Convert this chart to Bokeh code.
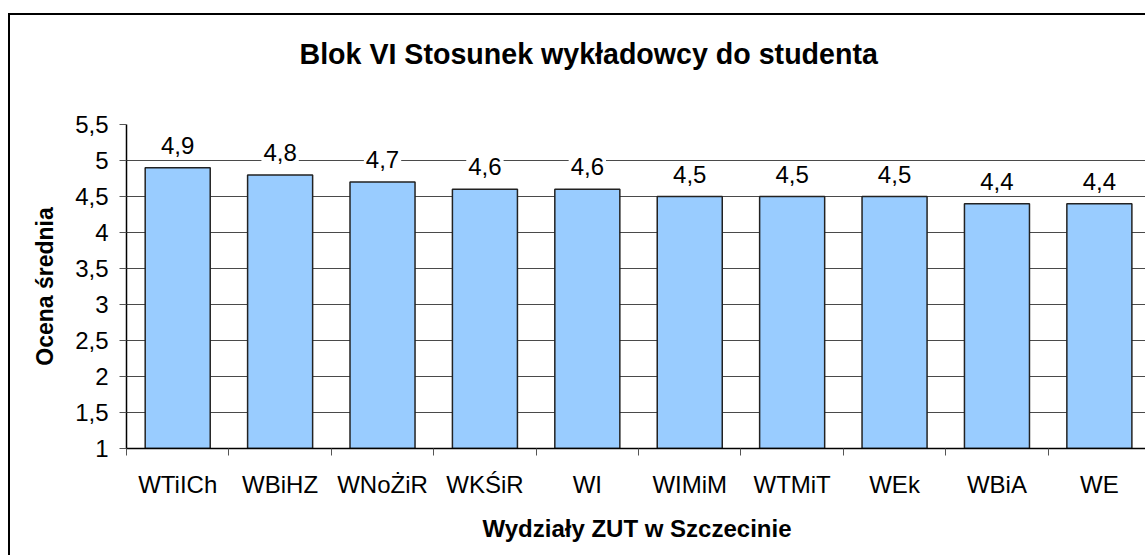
from bokeh.plotting import figure
from bokeh.models import (ColumnDataSource, Range1d, FixedTicker, LabelSet, Title)
from bokeh.core.properties import value
from bokeh.embed import file_html
from bokeh.resources import INLINE

# ---- data ----
categories = ["WTiICh", "WBiHZ", "WNoŻiR", "WKŚiR", "WI", "WIMiM", "WTMiT", "WEk", "WBiA", "WE"]
values = [4.9, 4.8, 4.7, 4.6, 4.6, 4.5, 4.5, 4.5, 4.4, 4.4]
y_ticks = [1, 1.5, 2, 2.5, 3, 3.5, 4, 4.5, 5, 5.5]
title_text = "Blok VI Stosunek wykładowcy do studenta"
x_title = "Wydziały ZUT w Szczecinie"
y_title = "Ocena średnia"


def pl(v):
    s = ("%g" % v)
    return s.replace(".", ",")


xs = [i + 0.5 for i in range(len(categories))]
src = ColumnDataSource(dict(x=xs, top=values, lab=[pl(v) for v in values]))

FONT = "Liberation Sans"

p = figure(width=1137, height=542, output_backend="svg", toolbar_location=None,
           x_range=Range1d(0, 9.97), y_range=Range1d(1, 5.5),
           min_border_left=116, min_border_right=0, min_border_top=109, min_border_bottom=109)
p.styles = {"margin-left": "8px", "margin-top": "13px",
            "border-left": "2px solid #000", "border-top": "2px solid #000"}
p.background_fill_color = "white"
p.border_fill_color = "white"
p.outline_line_color = None

# spacer between the plotting area and the chart title, then the title itself
p.add_layout(Title(text=" ", text_font_size="20px", standoff=26), "above")
p.add_layout(Title(text=title_text, align="left", offset=173, standoff=10,
                   text_font=FONT, text_font_size="28.6px", text_font_style="bold",
                   text_color="black"), "above")

# grid
p.xgrid.grid_line_color = None
p.ygrid.ticker = FixedTicker(ticks=y_ticks)
p.ygrid.grid_line_color = "#4a4a4a"
p.ygrid.grid_line_width = 1

p.vbar(x="x", top="top", bottom=1, width=0.635, source=src,
       fill_color="#99CCFF", line_color="#222222", line_width=1.5)

labels = LabelSet(x="x", y="top", text="lab", source=src, text_align="center",
                  text_baseline="alphabetic", y_offset=14, text_font=value(FONT),
                  text_font_size=value("24px"), text_color="black",
                  background_fill_color="white",
                  border_line_color="white", border_line_width=4)
p.add_layout(labels)

# x axis
xa = p.xaxis[0]
xa.ticker = FixedTicker(ticks=xs, minor_ticks=list(range(len(categories) + 1)))
xa.major_label_overrides = {x: c for x, c in zip(xs, categories)}
xa.major_tick_out = 0
xa.major_tick_in = 0
xa.minor_tick_out = 7
xa.minor_tick_in = 0
xa.minor_tick_line_color = "#555555"
xa.axis_line_color = "black"
xa.axis_line_width = 1.5
xa.major_label_text_font = FONT
xa.major_label_text_font_size = "24px"
xa.major_label_text_color = "black"
xa.major_label_standoff = 15
xa.axis_label = x_title
xa.axis_label_text_font = FONT
xa.axis_label_text_font_size = "24px"
xa.axis_label_text_font_style = "bold"
xa.axis_label_text_color = "black"
xa.axis_label_standoff = 14

# y axis
ya = p.yaxis[0]
ya.ticker = FixedTicker(ticks=y_ticks)
ya.major_label_overrides = {t: pl(t) for t in y_ticks}
ya.major_tick_out = 7
ya.major_tick_in = 0
ya.minor_tick_out = 0
ya.minor_tick_in = 0
ya.major_tick_line_color = "#555555"
ya.axis_line_color = "black"
ya.axis_line_width = 1.5
ya.major_label_text_font = FONT
ya.major_label_text_font_size = "24px"
ya.major_label_text_color = "black"
ya.major_label_standoff = 11
ya.axis_label = y_title
ya.axis_label_text_font = FONT
ya.axis_label_text_font_size = "23px"
ya.axis_label_text_font_style = "bold"
ya.axis_label_text_color = "black"
ya.axis_label_standoff = 14

open("out.html", "w").write(file_html(p, INLINE))
